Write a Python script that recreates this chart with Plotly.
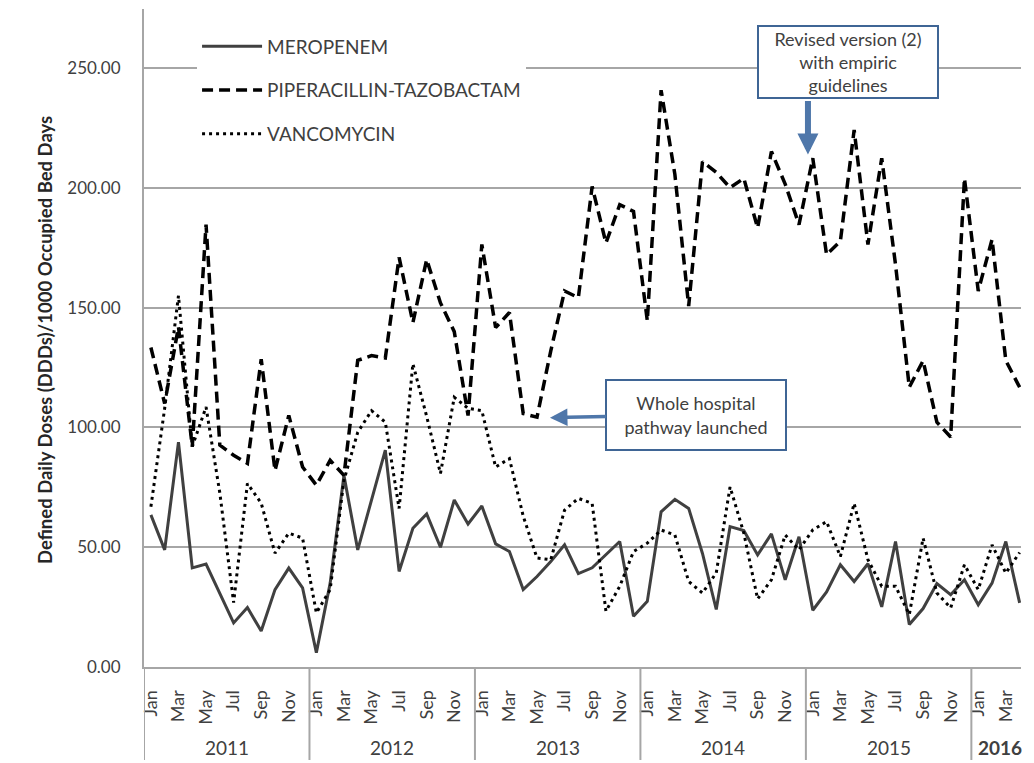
import plotly.graph_objects as go

# ---------------- data ----------------
years = ["2011", "2012", "2013", "2014", "2015", "2016"]
month_names = ["Jan", "Feb", "Mar", "Apr", "May", "Jun",
               "Jul", "Aug", "Sep", "Oct", "Nov", "Dec"]

meropenem = [63.5, 48.9, 93.9, 41.4, 43.0, 31.0, 18.4, 24.8, 15.0, 32.3, 41.3, 33.0,
             6.0, 35.0, 80.0, 48.9, 70.0, 90.5, 39.9, 57.9, 63.9, 50.0, 69.7, 59.7,
             67.2, 51.4, 48.2, 32.3, 37.8, 44.0, 51.0, 39.0, 41.4, 46.8, 52.4, 21.2,
             27.4, 64.8, 70.0, 66.2, 47.4, 24.0, 58.6, 57.0, 46.8, 55.6, 36.4, 54.4,
             23.7, 31.3, 42.7, 35.7, 43.1, 25.1, 52.4, 17.7, 24.4, 34.8, 30.2, 36.4,
             26.0, 35.0, 52.4, 26.8]

piperacillin = [133.4, 110.0, 142.0, 92.0, 184.7, 92.6, 88.4, 85.0, 128.5, 82.0, 105.0, 83.5,
                75.9, 86.3, 80.0, 128.0, 130.0, 129.0, 171.0, 143.8, 170.1, 152.0, 140.0, 105.0,
                176.4, 141.7, 148.0, 105.8, 104.3, 132.0, 157.0, 154.2, 200.6, 177.0, 193.0, 190.2,
                144.5, 240.8, 205.6, 150.7, 211.0, 206.5, 200.1, 204.0, 183.3, 215.2, 201.6, 184.7,
                212.4, 172.2, 177.7, 224.2, 176.4, 212.4, 168.0, 116.8, 127.9, 102.2, 96.0, 204.0,
                157.0, 178.5, 127.9, 116.8]

vancomycin = [66.9, 108.0, 155.0, 92.0, 108.5, 72.6, 26.9, 76.6, 68.4, 47.5, 55.9, 53.8,
              22.6, 32.3, 78.0, 98.0, 107.0, 102.2, 66.2, 126.6, 104.6, 80.8, 112.6, 108.0,
              107.0, 83.5, 87.0, 63.0, 45.5, 44.8, 65.5, 70.4, 68.3, 23.3, 33.7, 48.2,
              51.7, 57.2, 55.1, 35.7, 30.9, 39.3, 75.2, 55.9, 28.4, 36.4, 55.1, 48.9,
              57.2, 60.7, 46.1, 68.3, 44.8, 33.7, 33.7, 21.9, 53.8, 30.9, 24.7, 42.7,
              32.3, 51.0, 39.2, 47.8]

series_names = ["MEROPENEM", "PIPERACILLIN-TAZOBACTAM", "VANCOMYCIN"]
y_ticks = [0, 50, 100, 150, 200, 250]

annot_pathway = "Whole hospital<br>pathway launched"
annot_revised = "Revised version (2)<br>with empiric<br>guidelines"
y_title = "Defined Daily Doses (DDDs)/1000 Occupied Bed Days"

# ---------------- derived ----------------
n = len(meropenem)
x = list(range(n))
tickvals = [i for i in range(n) if i % 2 == 0]
ticktext = [month_names[i % 12] for i in tickvals]

FONT = "Lato, Carlito, Calibri, 'Open Sans', sans-serif"
GRID = "#A6A6A6"
TXT = "#404040"

fig = go.Figure()
fig.add_trace(go.Scatter(x=x, y=meropenem, mode="lines", name=series_names[0],
                         legendgroup="a",
                         line=dict(color="#404040", width=3)))
fig.add_trace(go.Scatter(x=x, y=piperacillin, mode="lines", name=series_names[1],
                         legendgroup="b",
                         line=dict(color="#000000", width=3.5, dash="11px,6px")))
fig.add_trace(go.Scatter(x=x, y=vancomycin, mode="lines", name=series_names[2],
                         legendgroup="c",
                         line=dict(color="#000000", width=3, dash="3px,4px")))

shapes = []
for k in range(len(years)):
    xd = -0.5 + 12 * k
    shapes.append(dict(type="line", xref="x", yref="paper", x0=xd, x1=xd,
                       y0=0, y1=-0.1413, line=dict(color=GRID, width=2)))

annotations = []
for k, yr in enumerate(years):
    if k < len(years) - 1:
        xc = 12 * k + 5.5
        txt = yr
    else:
        xc = 61.6
        txt = "<b>%s</b>" % yr
    annotations.append(dict(x=xc, y=-0.123, xref="x", yref="paper", text=txt,
                            showarrow=False, xanchor="center", yanchor="middle",
                            font=dict(family=FONT, size=19, color=TXT)))

annotations.append(dict(x=-0.1129, y=0.497, xref="paper", yref="paper", text="<b>%s</b>" % y_title,
                        textangle=-90, showarrow=False, xanchor="center", yanchor="middle",
                        font=dict(family=FONT, size=18.5, color="#262626")))

# pathway box with arrow pointing left
annotations.append(dict(x=28.94, y=104.1, xref="x", yref="y", text=annot_pathway,
                        showarrow=True, ax=146, ay=-3, axref="pixel", ayref="pixel",
                        arrowhead=2, arrowsize=1, arrowwidth=3.5, arrowcolor="#4F77AA",
                        standoff=0,
                        bordercolor="#3F6595", borderwidth=2, borderpad=1,
                        bgcolor="white", width=176, height=66,
                        font=dict(family=FONT, size=18, color=TXT)))

# revised box
annotations.append(dict(x=0.8033, y=0.9195, xref="paper", yref="paper", text=annot_revised,
                        showarrow=False, xanchor="center", yanchor="middle",
                        bordercolor="#3F6595", borderwidth=2, borderpad=1,
                        bgcolor="white", width=176, height=68,
                        font=dict(family=FONT, size=18, color=TXT)))
# revised arrow (down)
annotations.append(dict(x=47.65, y=214.0, xref="x", yref="y", text="",
                        showarrow=True, ax=0, ay=-55, axref="pixel", ayref="pixel",
                        arrowhead=2, arrowsize=0.7, arrowwidth=6, arrowcolor="#4F77AA",
                        standoff=0))

# the page body adds an 8px offset; size the figure so the plot lands where intended
fig.update_layout(
    width=1026, height=755,
    margin=dict(l=136, r=13, t=1, b=96),
    paper_bgcolor="white", plot_bgcolor="white",
    font=dict(family=FONT, color=TXT),
    showlegend=True,
    legend=dict(x=0.0605, y=0.972, xanchor="left", yanchor="top",
                bgcolor="white", borderwidth=0, traceorder="grouped",
                tracegroupgap=16, itemwidth=60,
                font=dict(family=FONT, size=19, color=TXT)),
    shapes=shapes,
    annotations=annotations,
    xaxis=dict(range=[-0.5, 63.1], tickmode="array", tickvals=tickvals, ticktext=ticktext,
               tickangle=-90, showgrid=False, zeroline=False, showline=True,
               linecolor=GRID, linewidth=2, ticks="", ticklabelstandoff=14,
               tickfont=dict(family=FONT, size=18, color=TXT)),
    yaxis=dict(range=[0, 274.7], tickmode="array", tickvals=y_ticks, tickformat=".2f",
               showgrid=True, gridcolor=GRID, gridwidth=1.5, zeroline=False,
               showline=True, linecolor=GRID, linewidth=2, ticks="",
               ticklabelstandoff=18,
               tickfont=dict(family=FONT, size=17, color=TXT)),
)

fig.write_html("out.html")
